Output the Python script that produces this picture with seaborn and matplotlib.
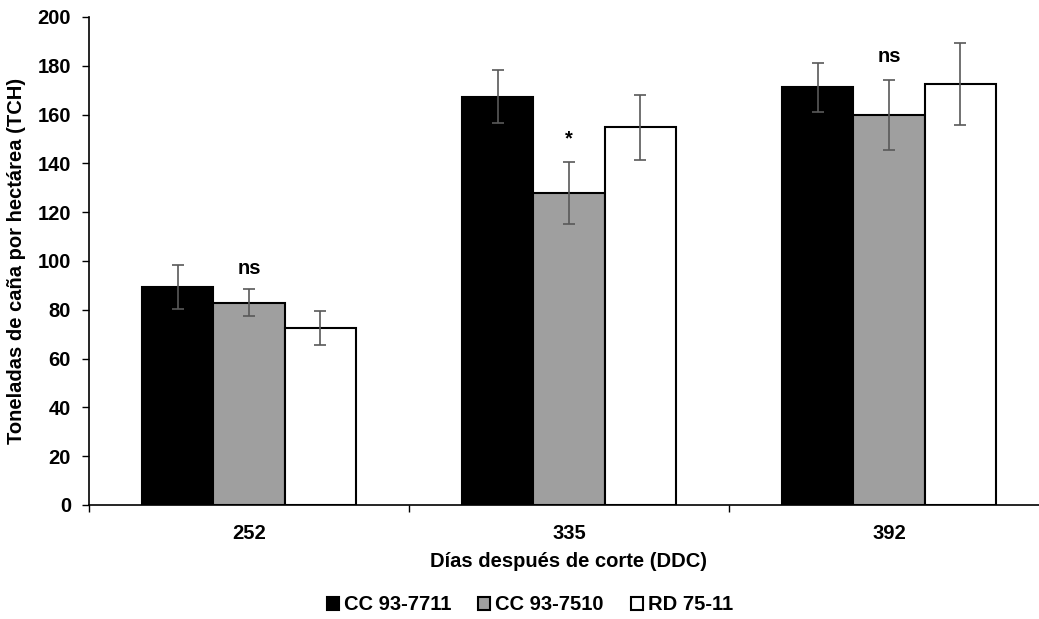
import pandas as pd
import numpy as np
import matplotlib
matplotlib.use("Agg")
import matplotlib.pyplot as plt
import seaborn as sns

sns.set_style("white")
plt.rcParams['font.family'] = ['Liberation Sans', 'DejaVu Sans']
plt.rcParams['font.weight'] = 'bold'
plt.rcParams['text.color'] = 'black'
plt.rcParams['axes.labelcolor'] = 'black'
plt.rcParams['xtick.color'] = 'black'
plt.rcParams['ytick.color'] = 'black'

# datos
dias = ["252", "335", "392"]
variedades = ["CC 93-7711", "CC 93-7510", "RD 75-11"]
tch_7711 = [89.5, 167.3, 171.2]
tch_7510 = [82.9, 127.7, 159.8]
tch_7511 = [72.4, 154.8, 172.7]
err_7711 = [9.0, 10.8, 10.0]
err_7510 = [5.5, 12.7, 14.5]
err_7511 = [7.0, 13.3, 16.8]
signif = ["ns", "*", "ns"]
signif_y = [93, 146, 180]

colores = ["#000000", "#9f9f9f", "#ffffff"]

df = pd.DataFrame({
    "dia": dias * 3,
    "variedad": np.repeat(variedades, 3),
    "tch": tch_7711 + tch_7510 + tch_7511,
    "err": err_7711 + err_7510 + err_7511,
})

fig = plt.figure(figsize=(10.39, 6.19), dpi=100)
ax = fig.add_axes([89/1039, 1-505/619, 960/1039, 488/619])

sns.barplot(data=df, x="dia", y="tch", hue="variedad", order=dias,
            hue_order=variedades, palette=colores, width=0.67, gap=0,
            edgecolor="black", linewidth=1.5, errorbar=None, ax=ax,
            legend=True)

# barras de error a partir de las posiciones de las barras
barras = [p for p in ax.patches][:9]
for p, e in zip(barras, df["err"]):
    xc = p.get_x() + p.get_width()/2
    ax.errorbar(xc, p.get_height(), yerr=e, fmt="none", ecolor="#595959",
                elinewidth=1.2, capsize=4, capthick=1.2, zorder=5)

# ns / *
for i, (t, yy) in enumerate(zip(signif, signif_y)):
    p = barras[3 + i]
    ax.text(p.get_x() + p.get_width()/2, yy, t, ha="center", va="bottom",
            fontsize=14.5, fontweight="bold")

ax.set_ylim(0, 200)
ax.set_xlim(-0.5, 2.5)
ax.set_yticks(range(0, 201, 20))
ax.tick_params(axis="y", labelsize=14.5, length=5, width=1, direction="out", left=True, pad=8)
ax.set_xticks([-0.5, 0.5, 1.5, 2.5], minor=True)
ax.tick_params(axis="x", which="major", length=0, labelsize=14.5, pad=14)
ax.tick_params(axis="x", which="minor", length=5, width=1, direction="out", bottom=True)
for lab in ax.get_xticklabels() + ax.get_yticklabels():
    lab.set_fontweight("bold")

for s in ["top", "right"]:
    ax.spines[s].set_visible(False)
for s in ["left", "bottom"]:
    ax.spines[s].set_color("black")
    ax.spines[s].set_linewidth(1.2)

ax.set_xlabel("Días después de corte (DDC)", fontsize=14.5, fontweight="bold", labelpad=6)
ax.set_ylabel("Toneladas de caña por hectárea (TCH)", fontsize=14.5, fontweight="bold", labelpad=8)

handles, labels = ax.get_legend_handles_labels()
ax.legend_.remove()
fig.legend(handles, labels, loc="center", bbox_to_anchor=(0.51, 1-605/619),
           ncol=3, frameon=False, handlelength=0.6, handleheight=0.6,
           handletextpad=0.25, columnspacing=1.35,
           prop={"weight": "bold", "size": 14.5})

fig.savefig("out.png", dpi=100)
